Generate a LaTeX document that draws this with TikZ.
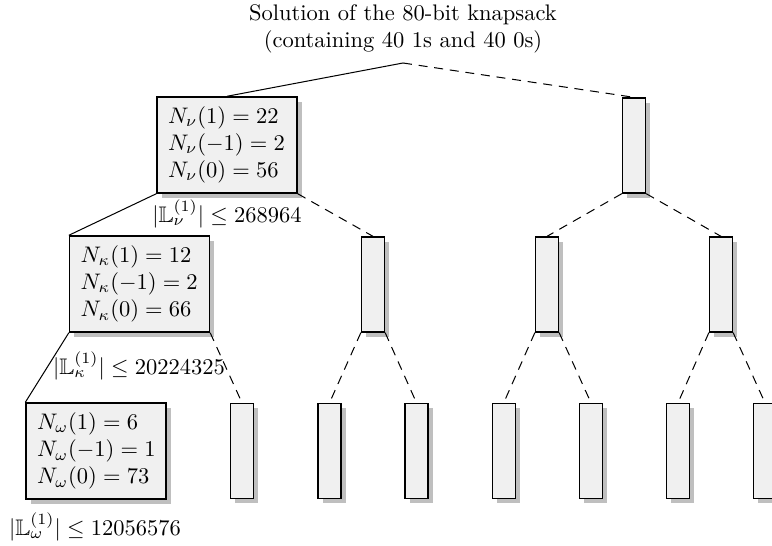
\documentclass[tikz,border=0pt]{standalone}
\usepackage{amssymb}
\usetikzlibrary{shadows}
\tikzset{
  box/.style={draw=black, line width=0.6pt, fill=black!6,
    drop shadow={shadow xshift=2.2pt, shadow yshift=-2.2pt, fill=black!25, opacity=1}},
  bigbox/.style={box, text width=52.4pt, inner xsep=4.9pt, inner ysep=0pt,
    minimum height=42.7pt, align=left},
  thinbox/.style={box, minimum width=10.2pt, minimum height=42.2pt, inner sep=0pt},
  solidline/.style={line width=0.45pt},
  dashline/.style={line width=0.45pt, dash pattern=on 4pt off 3pt},
  lbl/.style={inner sep=0pt}
}
\newcommand\boxline[1]{\mbox{$#1$}}
\begin{document}
\begin{tikzpicture}[x=0.4444pt, y=-0.4444pt]
\useasboundingbox (0,0) rectangle (772,546);
% title
\node[align=center, inner sep=0pt] (title) at (403,29) {Solution of the 80-bit knapsack\\(containing 40 1s and 40 0s)};
\coordinate (root) at (403,63);
% level 1
\node[bigbox] (nu) at (227,145) {\boxline{N_\nu(1) = 22}\\\boxline{N_\nu(-1) = 2}\\\boxline{N_\nu(0) = 56}};
\node[thinbox] (a1) at (634,145.5) {};
% level 2
\node[bigbox] (ka) at (139.5,284) {\boxline{N_\kappa(1) = 12}\\\boxline{N_\kappa(-1) = 2}\\\boxline{N_\kappa(0) = 66}};
\node[thinbox] (b1) at (373,284.5) {};
\node[thinbox] (b2) at (547,284.5) {};
\node[thinbox] (b3) at (721,284.5) {};
% level 3
\node[bigbox] (om) at (96,451) {\boxline{N_\omega(1) = 6}\\\boxline{N_\omega(-1) = 1}\\\boxline{N_\omega(0) = 73}};
\node[thinbox] (c1) at (242,451) {};
\node[thinbox] (c2) at (329.5,451) {};
\node[thinbox] (c3) at (416.5,451) {};
\node[thinbox] (c4) at (503.7,451) {};
\node[thinbox] (c5) at (591,451) {};
\node[thinbox] (c6) at (678,451) {};
\node[thinbox] (c7) at (765,451) {};
% labels
\node[lbl] (lnu) at (227,214) {$|\mathbb{L}_\nu^{(1)}| \leq 268964$};
\node[lbl] (lka) at (139,366) {$|\mathbb{L}_\kappa^{(1)}| \leq 20224325$};
\node[lbl] (lom) at (95,527) {$|\mathbb{L}_\omega^{(1)}| \leq 12056576$};
% connectors
\draw[solidline] (root) -- (nu.north);
\draw[dashline] (root) -- (a1.north);
\draw[solidline] (nu.south west) -- (ka.north west);
\draw[dashline] (nu.south east) -- (b1.north);
\draw[dashline] (a1.south west) -- (b2.north);
\draw[dashline] (a1.south east) -- (b3.north);
\draw[solidline] (ka.south west) -- (om.north west);
\draw[dashline] (ka.south east) -- (c1.north);
\draw[dashline] (b1.south west) -- (c2.north);
\draw[dashline] (b1.south east) -- (c3.north);
\draw[dashline] (b2.south west) -- (c4.north);
\draw[dashline] (b2.south east) -- (c5.north);
\draw[dashline] (b3.south west) -- (c6.north);
\draw[dashline] (b3.south east) -- (c7.north);
\end{tikzpicture}
\end{document}
